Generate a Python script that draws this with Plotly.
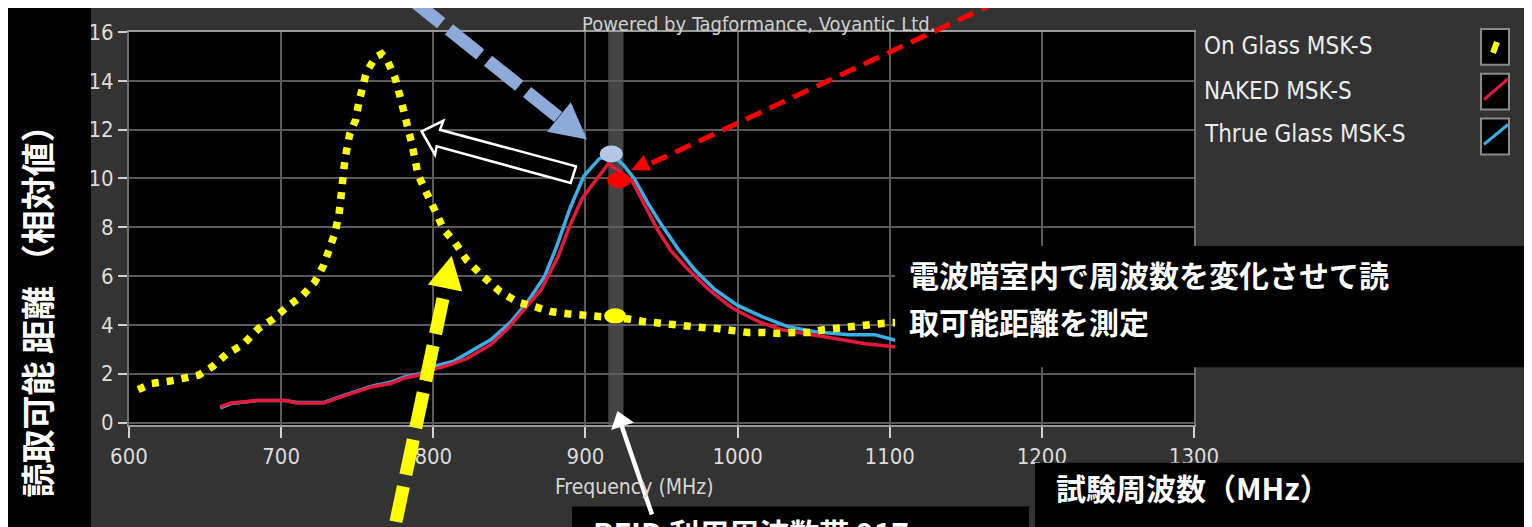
import numpy as np
import plotly.graph_objects as go

# ---------------- data ----------------
series_names = ["On Glass MSK-S", "NAKED MSK-S", "Thrue Glass MSK-S"]

freq_on_glass = [606, 615, 627, 637, 646, 655, 664, 675, 685, 695,
                 704, 714, 722, 728, 732, 735, 738, 740, 742, 745,
                 749, 751, 753, 756, 762, 766, 770, 775, 778, 781,
                 784, 786, 790, 796, 801, 807, 814, 822, 833, 844,
                 855, 867, 878, 888, 899, 908, 918, 928, 938, 948,
                 958, 968, 977, 987, 997, 1007, 1017, 1027, 1037, 1047,
                 1057, 1067, 1076, 1085, 1095, 1105]
on_glass = [1.35, 1.6, 1.7, 1.8, 1.95, 2.3, 2.8, 3.2, 3.85, 4.25,
            4.75, 5.2, 5.75, 6.45, 7.1, 7.7, 8.5, 9.7, 10.8, 11.8,
            12.4, 13.1, 13.75, 14.35, 14.97, 15.1, 14.8, 14.1, 13.4, 12.7,
            12.0, 11.4, 10.15, 9.3, 8.6, 7.9, 7.4, 6.65, 5.97, 5.36,
            4.95, 4.7, 4.54, 4.46, 4.42, 4.34, 4.3, 4.24, 4.14, 4.06,
            4.02, 3.93, 3.89, 3.85, 3.77, 3.69, 3.69, 3.65, 3.69, 3.69,
            3.81, 3.89, 3.97, 4.04, 4.06, 4.1]

freq_naked = [660, 667, 684, 697, 703, 710, 728, 737, 750, 760,
              772, 780, 791, 800, 811, 822, 838, 849, 860, 871,
              882, 890, 898, 908, 915, 923, 931, 939, 947, 956,
              967, 981, 994, 1001, 1014, 1029, 1047, 1064, 1084, 1105]
naked = [0.65, 0.8, 0.9, 0.92, 0.9, 0.8, 0.8, 1.0, 1.27, 1.47,
         1.6, 1.8, 1.96, 2.17, 2.37, 2.62, 3.2, 3.85, 4.66, 5.45,
         6.8, 8.1, 9.2, 10.0, 10.6, 10.27, 9.86, 8.9, 7.94, 7.05,
         6.3, 5.45, 4.8, 4.54, 4.13, 3.8, 3.6, 3.44, 3.23, 3.1]

freq_thrue = [660, 667, 684, 697, 703, 710, 728, 737, 750, 760,
              772, 780, 791, 800, 813, 838, 851, 862, 873, 881,
              890, 899, 909, 917, 925, 932, 941, 950, 961, 972,
              985, 1000, 1016, 1033, 1051, 1073, 1090, 1105]
thrue = [0.6, 0.78, 0.9, 0.92, 0.9, 0.82, 0.82, 1.02, 1.3, 1.5,
         1.65, 1.85, 2.0, 2.3, 2.5, 3.4, 4.13, 4.95, 5.97, 7.2,
         8.8, 10.1, 10.8, 11.0, 10.55, 10.0, 9.0, 8.1, 7.1, 6.25,
         5.45, 4.8, 4.34, 3.93, 3.72, 3.6, 3.6, 3.35]

x_ticks = [600, 700, 800, 900, 1000, 1100, 1200, 1300]
y_ticks = [0, 2, 4, 6, 8, 10, 12, 14, 16]
rfid_band = [915, 925]
mark_blue_f, mark_red_f, mark_yellow_f = 917, 922, 919.5

# ---------------- layout geometry ----------------
# the page body has an 8px margin: screen coords = figure coords + 8
OFF = 8
W, H = 1524, 519
ML, MR, MT, MB = 121, 338, 22, 102
PW, PH = W - ML - MR, H - MT - MB

def px(x):  # screen x -> paper
    return (x - OFF - ML) / PW

def py(y):  # screen y -> paper
    return (H - MB - (y - OFF)) / PH

NARROW = "Liberation Sans Narrow, Arial Narrow, DejaVu Sans Condensed, sans-serif"
CJK = "Noto Sans CJK JP, Noto Sans CJK SC, sans-serif"

YEL = "#ffff00"
RED = "#e8173c"
BLUE = "#3aaee6"

fig = go.Figure()
fig.add_trace(go.Scatter(x=freq_thrue, y=thrue, mode="lines", name=series_names[2],
                         line=dict(color=BLUE, width=3.5)))
fig.add_trace(go.Scatter(x=freq_naked, y=naked, mode="lines", name=series_names[1],
                         line=dict(color=RED, width=3.5)))
fig.add_trace(go.Scatter(x=freq_on_glass, y=on_glass, mode="lines", name=series_names[0],
                         line=dict(color=YEL, width=7.5, dash="7px,8px")))

shapes = []
# RFID band
shapes.append(dict(type="rect", xref="x", yref="paper", x0=rfid_band[0], x1=rfid_band[1],
                   y0=0, y1=1, fillcolor="#444444", line=dict(width=0), layer="below"))

def rect(x0, y0, x1, y1, color, lw=0, lc=None):
    shapes.append(dict(type="rect", xref="paper", yref="paper",
                       x0=px(x0), x1=px(x1), y0=py(y1), y1=py(y0),
                       fillcolor=color, line=dict(width=lw, color=lc or color), layer="above"))

def poly(pts, fill, lw=0, lc=None):
    d = "M " + " L ".join(f"{px(a):.5f},{py(b):.5f}" for a, b in pts) + " Z"
    shapes.append(dict(type="path", xref="paper", yref="paper", path=d,
                       fillcolor=fill, line=dict(width=lw, color=lc or fill), layer="above"))

def seg(x0, y0, x1, y1, color, width, dash="solid"):
    shapes.append(dict(type="line", xref="paper", yref="paper",
                       x0=px(x0), y0=py(y0), x1=px(x1), y1=py(y1),
                       line=dict(color=color, width=width, dash=dash), layer="above"))

def arrow_head(tip, tail, length, half):
    tx, ty = tip
    dx, dy = tip[0] - tail[0], tip[1] - tail[1]
    L = (dx * dx + dy * dy) ** 0.5
    ux, uy = dx / L, dy / L
    bx, by = tx - ux * length, ty - uy * length
    nx, ny = -uy, ux
    return [(tx, ty), (bx + nx * half, by + ny * half), (bx - nx * half, by - ny * half)]

# left black band
rect(8, 0, 91, 540, "#000000")

# legend swatches
for yc in [45, 90, 135]:
    rect(1481, yc - 18, 1509, yc + 18, "#000000", 2, "#8a8a8a")
seg(1493, 51, 1497, 40, YEL, 6)
seg(1484, 98, 1508, 77, RED, 3)
seg(1484, 143, 1508, 123, BLUE, 3)

# text boxes
rect(895, 245, 1540, 367, "#000000")
rect(1035, 463, 1525, 540, "#000000")
rect(572, 507, 1029, 540, "#000000")

# markers on curves
def ellipse(f, v, wpx, hpx, color):
    shapes.append(dict(type="circle", xref="x", yref="y",
                       xsizemode="pixel", xanchor=f, x0=-wpx / 2, x1=wpx / 2,
                       ysizemode="pixel", yanchor=v, y0=-hpx / 2, y1=hpx / 2,
                       fillcolor=color, line=dict(width=0), layer="above"))

ellipse(mark_blue_f, float(np.interp(mark_blue_f, freq_thrue, thrue)), 23, 17, "#b4c7e7")
ellipse(mark_red_f, float(np.interp(mark_red_f, freq_naked, naked)) - 0.38, 23, 16, "#ff0000")
ellipse(mark_yellow_f, float(np.interp(mark_yellow_f, freq_on_glass, on_glass)) + 0.08, 22, 15, YEL)

# blue dashed arrow
seg(410, -4, 559, 116, "#8eaadb", 13, "40px,10px")
poly(arrow_head((587, 138), (410, -4), 36, 19), "#8eaadb")
# red dashed arrow
seg(997, 0, 647, 164, "#ff0000", 5, "17px,9px")
poly(arrow_head((631, 169), (997, 0), 18, 8.5), "#ff0000")
# hollow white block arrow
poly([(421.7, 130), (443.3, 119.3), (440, 128.3), (576, 165), (570.7, 181.7),
      (436.7, 145), (435, 153.3)], "#000000", 2.5, "#ffffff")
# yellow dashed arrow
seg(443, 298, 388, 560, YEL, 13, "36px,12px")
poly(arrow_head((451.7, 255), (393, 540), 33, 17.5), YEL)
# white solid arrow
seg(621, 424, 652, 515, "#ffffff", 4.5)
poly(arrow_head((617.5, 411), (652, 515), 16, 12), "#ffffff")

annotations = []

def text(x, y, s, size, color, family, xanchor="left", yanchor="middle", angle=0):
    annotations.append(dict(xref="paper", yref="paper", x=px(x), y=py(y), text=s,
                            showarrow=False, xanchor=xanchor, yanchor=yanchor,
                            textangle=angle,
                            font=dict(size=size, color=color, family=family)))

text(758, 22, "Powered by Tagformance, Voyantic Ltd.", 20, "#cfcfcf", NARROW, "center")
text(634, 487, "Frequency (MHz)", 21, "#d6d6d6", NARROW, "center")
for name, yc in zip(series_names, [44, 89, 133]):
    text(1202, yc, name, 24, "#ececec", NARROW)

text(37, 303, "<b>読取可能 距離 （相対値）</b>", 34, "#ffffff", CJK, "center", "middle", -90)
text(907, 273, "<b>電波暗室内で周波数を変化させて読</b>", 30, "#ffffff", CJK)
text(907, 320, "<b>取可能距離を測定</b>", 30, "#ffffff", CJK)
text(1054, 487, "<b>試験周波数（MHz）</b>", 30, "#ffffff", CJK)
text(591, 533, "<b>RFID 利用周波数帯 917</b>", 30, "#ffffff", CJK)

fig.update_layout(
    width=W, height=H,
    margin=dict(l=ML, r=MR, t=MT, b=MB, pad=0),
    paper_bgcolor="#333333", plot_bgcolor="#000000",
    showlegend=False,
    font=dict(family=NARROW, color="#dcdcdc"),
    shapes=shapes, annotations=annotations,
    xaxis=dict(range=[600, 1300], tickvals=x_ticks, ticktext=[str(v) for v in x_ticks],
               showgrid=True, gridcolor="#5a5a5a", gridwidth=2, zeroline=False,
               showline=True, linecolor="#9a9a9a", linewidth=2, mirror=True,
               ticks="outside", ticklen=11, tickwidth=1.5, tickcolor="#d0d0d0",
               tickfont=dict(size=22, color="#dcdcdc", family=NARROW)),
    yaxis=dict(range=[-0.1, 16], tickvals=y_ticks, ticktext=[str(v) for v in y_ticks],
               showgrid=True, gridcolor="#5a5a5a", gridwidth=2, zeroline=False,
               showline=True, linecolor="#707070", linewidth=2, mirror=True,
               ticks="outside", ticklen=9, tickwidth=1.5, tickcolor="#d0d0d0",
               tickfont=dict(size=22, color="#dcdcdc", family=NARROW)),
)

fig.write_html("out.html")
